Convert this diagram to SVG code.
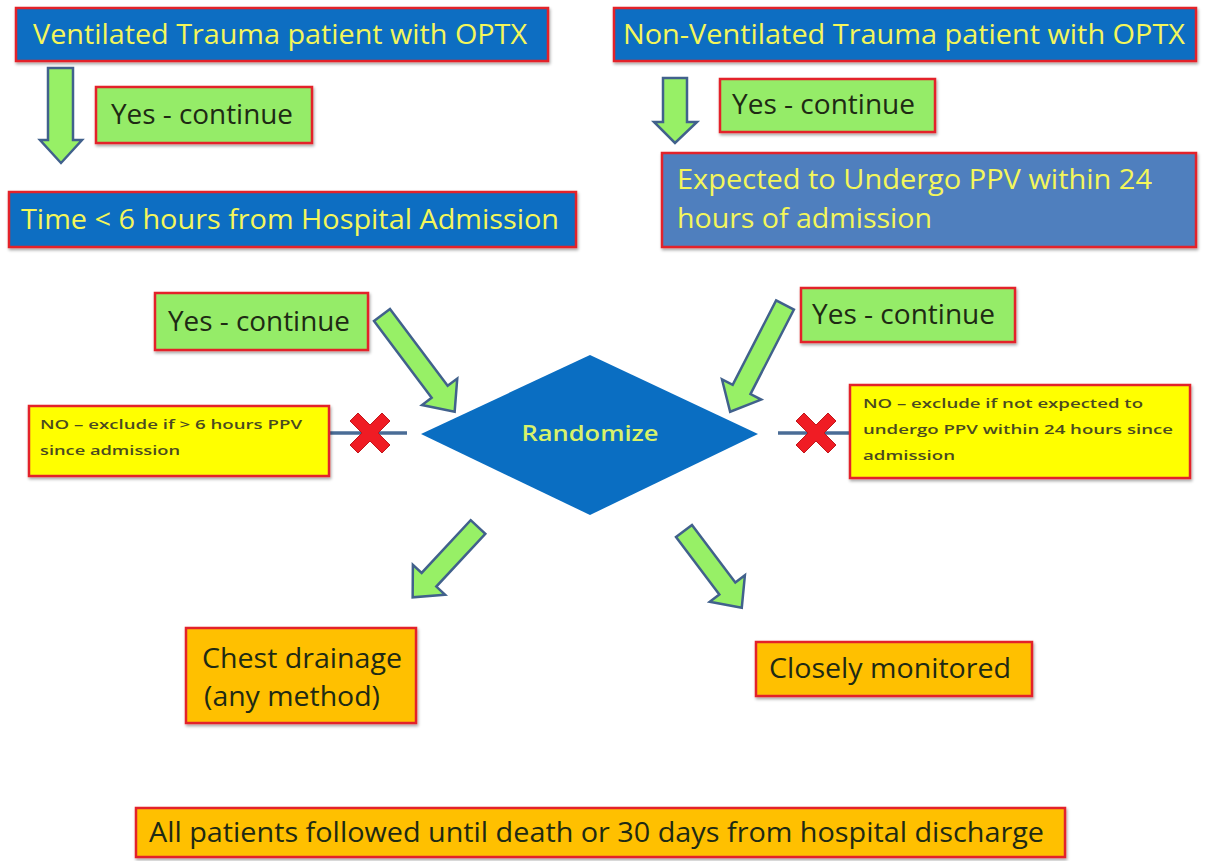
<svg xmlns="http://www.w3.org/2000/svg" width="1209" height="861" viewBox="0 0 1209 861">
  <style>
    .box { stroke: #E3242B; stroke-width: 2.5; }
    .blue { fill: #0A6EC2; }
    .steel { fill: #4F7FBE; }
    .green { fill: #95EC68; }
    .yellow { fill: #FFFF00; }
    .orange { fill: #FFC000; }
    .t { font-family: "Open Sans", "Liberation Sans", sans-serif; }
    .hdr { font-size: 27px; fill: #F4F65A; font-weight: 500; }
    .dark { font-size: 27px; fill: #1E2A14; font-weight: 500; }
    .small { font-size: 13px; fill: #4A4A20; font-weight: 600; }
    .arrow { fill: #97F066; stroke: #41618C; stroke-width: 2.5; stroke-linejoin: miter; }
    .xline { stroke: #4A6C96; stroke-width: 3.5; }
    .cross { fill: #F01C24; stroke: #C0181C; stroke-width: 1; }
  </style>
  <defs>
    <filter id="shadow" x="-5%" y="-10%" width="110%" height="130%">
      <feDropShadow dx="1" dy="2" stdDeviation="1.5" flood-color="#000" flood-opacity="0.35"/>
    </filter>
    <!-- thick "X" mark centred on the origin -->
    <path id="xmark" d="M-20,-12 L-12,-20 L0,-8 L12,-20 L20,-12 L8,0 L20,12 L12,20 L0,8 L-12,20 L-20,12 L-8,0 Z"/>
  </defs>

  <rect width="1209" height="861" fill="#FFFFFF"/>

  <!-- connectors: block arrows and exclusion lines -->
  <g id="connectors">
    <!-- vertical arrows -->
    <path class="arrow" d="M48,68 H73 V140 H82 L61,163 L40,140 H48 Z"/>
    <path class="arrow" d="M663,78 H687 V122 H697 L675,143 L654,122 H663 Z"/>
    <!-- diagonal arrows: tail at origin, pointing along +y before rotation -->
    <g transform="translate(382,315) rotate(-36.9)">
      <path class="arrow" d="M-10,0 H10 V96 H22 L0,121 L-22,96 H-10 Z"/>
    </g>
    <g transform="translate(785,305) rotate(27.2)">
      <path class="arrow" d="M-10,0 H10 V95 H22 L0,120 L-22,95 H-10 Z"/>
    </g>
    <g transform="translate(478,527) rotate(42.9)">
      <path class="arrow" d="M-10,0 H10 V72 H22 L0,96 L-22,72 H-10 Z"/>
    </g>
    <g transform="translate(684,531) rotate(-37)">
      <path class="arrow" d="M-10,0 H10 V72 H22 L0,96 L-22,72 H-10 Z"/>
    </g>
    <!-- exclusion lines with X marks -->
    <line class="xline" x1="329" y1="433" x2="407" y2="433"/>
    <use href="#xmark" class="cross" x="370" y="433"/>
    <line class="xline" x1="778" y1="433" x2="850" y2="433"/>
    <use href="#xmark" class="cross" x="816" y="433"/>
  </g>

  <g id="ventilated">
    <rect class="box blue" x="16" y="8" width="532" height="53" filter="url(#shadow)"/>
    <text class="t hdr" x="33" y="44" textLength="494" lengthAdjust="spacingAndGlyphs">Ventilated Trauma patient with OPTX</text>
  </g>

  <g id="non-ventilated">
    <rect class="box blue" x="614" y="8" width="582" height="53" filter="url(#shadow)"/>
    <text class="t hdr" x="623" y="44" textLength="562" lengthAdjust="spacingAndGlyphs">Non-Ventilated Trauma patient with OPTX</text>
  </g>

  <g id="yes-1">
    <rect class="box green" x="96" y="87" width="216" height="56" filter="url(#shadow)"/>
    <text class="t dark" x="111" y="124" textLength="182" lengthAdjust="spacingAndGlyphs">Yes - continue</text>
  </g>

  <g id="yes-2">
    <rect class="box green" x="720" y="79" width="215" height="53" filter="url(#shadow)"/>
    <text class="t dark" x="732" y="114" textLength="183" lengthAdjust="spacingAndGlyphs">Yes - continue</text>
  </g>

  <g id="time-window">
    <rect class="box blue" x="9" y="192" width="567" height="55" filter="url(#shadow)"/>
    <text class="t hdr" x="21" y="229" textLength="538" lengthAdjust="spacingAndGlyphs">Time &lt; 6 hours from Hospital Admission</text>
  </g>

  <g id="expected-ppv">
    <rect class="box steel" x="662" y="153" width="534" height="94" filter="url(#shadow)"/>
    <text class="t hdr" x="677" y="189" textLength="475" lengthAdjust="spacingAndGlyphs">Expected to Undergo PPV within 24</text>
    <text class="t hdr" x="677" y="228" textLength="255" lengthAdjust="spacingAndGlyphs">hours of admission</text>
  </g>

  <g id="yes-3">
    <rect class="box green" x="155" y="293" width="213" height="57" filter="url(#shadow)"/>
    <text class="t dark" x="168" y="331" textLength="182" lengthAdjust="spacingAndGlyphs">Yes - continue</text>
  </g>

  <g id="yes-4">
    <rect class="box green" x="801" y="288" width="214" height="54" filter="url(#shadow)"/>
    <text class="t dark" x="812" y="324" textLength="183" lengthAdjust="spacingAndGlyphs">Yes - continue</text>
  </g>

  <g id="randomize">
    <polygon points="421,434 590,355 758,434 590,515" fill="#0A6EC2"/>
    <text class="t" x="590" y="441" font-size="22" font-weight="600" fill="#D8F26A" text-anchor="middle" textLength="137" lengthAdjust="spacingAndGlyphs">Randomize</text>
  </g>

  <g id="exclude-left">
    <rect class="box yellow" x="29" y="406" width="300" height="70" filter="url(#shadow)"/>
    <text class="t small" x="40" y="429" textLength="262" lengthAdjust="spacingAndGlyphs">NO – exclude if  &gt; 6 hours PPV</text>
    <text class="t small" x="40" y="455" textLength="140" lengthAdjust="spacingAndGlyphs">since admission</text>
  </g>

  <g id="exclude-right">
    <rect class="box yellow" x="850" y="385" width="340" height="93" filter="url(#shadow)"/>
    <text class="t small" x="863" y="408" textLength="280" lengthAdjust="spacingAndGlyphs">NO – exclude if not expected to</text>
    <text class="t small" x="863" y="434" textLength="310" lengthAdjust="spacingAndGlyphs">undergo PPV within 24 hours since</text>
    <text class="t small" x="863" y="460" textLength="92" lengthAdjust="spacingAndGlyphs">admission</text>
  </g>

  <g id="chest-drainage">
    <rect class="box orange" x="186" y="628" width="230" height="95" filter="url(#shadow)"/>
    <text class="t dark" x="202" y="668" textLength="200" lengthAdjust="spacingAndGlyphs">Chest drainage</text>
    <text class="t dark" x="204" y="706" textLength="176" lengthAdjust="spacingAndGlyphs">(any method)</text>
  </g>

  <g id="closely-monitored">
    <rect class="box orange" x="756" y="642" width="276" height="54" filter="url(#shadow)"/>
    <text class="t dark" x="769" y="678" textLength="242" lengthAdjust="spacingAndGlyphs">Closely monitored</text>
  </g>

  <g id="follow-up">
    <rect class="box orange" x="136" y="808" width="929" height="49" filter="url(#shadow)"/>
    <text class="t dark" x="149" y="842" font-size="25" textLength="895" lengthAdjust="spacingAndGlyphs">All patients followed until death or 30 days from hospital discharge</text>
  </g>
</svg>
